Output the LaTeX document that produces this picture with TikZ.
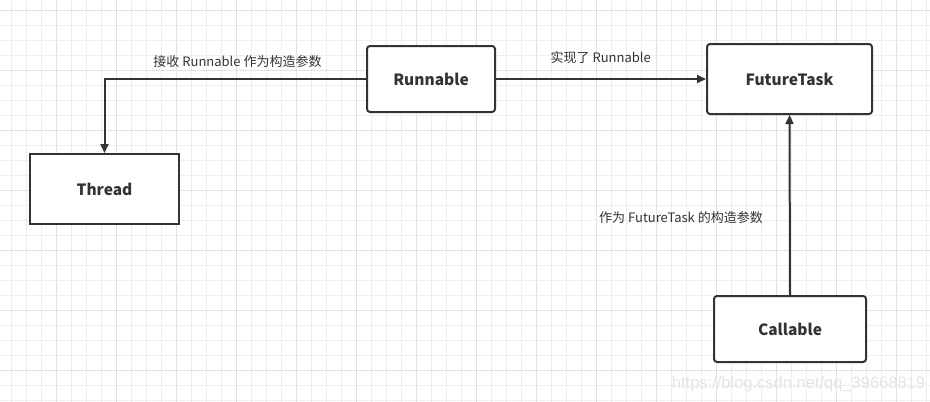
\documentclass[tikz,border=0pt]{standalone}
\usepackage{fontspec}
\setmainfont{Noto Sans CJK SC}
\usetikzlibrary{arrows.meta}
\definecolor{gridminor}{HTML}{EEEEEE}
\definecolor{gridmajor}{HTML}{E2E2E2}
\definecolor{ink}{HTML}{333333}
\definecolor{wm}{HTML}{E4E4E4}
\begin{document}
\begin{tikzpicture}[x=1pt,y=-1pt,
  box/.style={draw=ink,line width=2pt,fill=white,inner sep=0pt,text=ink,font=\fontsize{15.5}{18}\selectfont\bfseries},
  rbox/.style={box,rounded corners=3pt},
  arr/.style={draw=ink,line width=2pt,-{Triangle[length=9pt,width=8pt]}},
  lbl/.style={text=ink,font=\fontsize{13}{15}\selectfont,inner sep=0pt}]
\useasboundingbox (0,0) rectangle (930,402);
\fill[white] (0,0) rectangle (930,402);
% grid
\foreach \k in {0,...,61}{
  \pgfmathsetmacro{\xx}{11.7+15*\k}
  \pgfmathtruncatemacro{\m}{mod(\k+1,4)}
  \ifnum\m=0 \draw[gridmajor,line width=0.8pt] (\xx,0) -- (\xx,402);
  \else \draw[gridminor,line width=0.8pt] (\xx,0) -- (\xx,402); \fi
}
\foreach \k in {0,...,26}{
  \pgfmathsetmacro{\yy}{10+15*\k}
  \pgfmathtruncatemacro{\m}{mod(\k,4)}
  \ifnum\m=0 \draw[gridmajor,line width=0.8pt] (0,\yy) -- (930,\yy);
  \else \draw[gridminor,line width=0.8pt] (0,\yy) -- (930,\yy); \fi
}
% nodes
\node[rbox,minimum width=128pt,minimum height=66pt] (run) at (431,79) {Runnable};
\node[rbox,minimum width=165pt,minimum height=70pt] (ft) at (789.5,79) {FutureTask};
\node[rbox,minimum width=152pt,minimum height=66pt] (call) at (790,329) {Callable};
\node[box,minimum width=149pt,minimum height=70pt] (thread) at (104.5,189) {Thread};
% connectors
\draw[arr] (run.west) -| (thread.north);
\draw[arr] (run.east) -- (ft.west);
\draw[arr] (call.north) -- (ft.south);
% labels
\node[lbl] (l1) at (237.5,62) {接收 Runnable 作为构造参数};
\node[lbl] (l2) at (600.7,58) {实现了 Runnable};
\node[lbl] (l3) at (681,218) {作为 FutureTask 的构造参数};
% watermark
\node[text=wm,font=\fontspec{Liberation Sans}\fontsize{16.5}{18}\selectfont,inner sep=0pt] (wmk) at (798.5,384) {https://blog.csdn.net/qq\_39668819};
\end{tikzpicture}
\end{document}
